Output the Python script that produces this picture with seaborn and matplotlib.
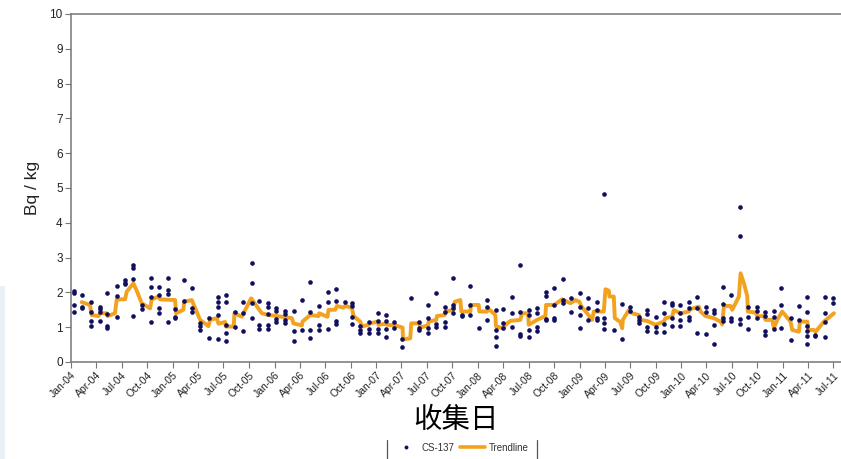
import pandas as pd
import matplotlib
matplotlib.use("Agg")
import matplotlib.pyplot as plt
import matplotlib.dates as mdates
from matplotlib.lines import Line2D
from matplotlib.patches import Rectangle
import seaborn as sns

# sampling times, months since Jan 2004
sample_month = [0.4, 1.3, 2.4, 3.4, 4.3, 5.4, 6.4, 7.35, 8.35, 9.4, 10.4, 11.4,
                12.3, 13.3, 14.3, 15.2, 16.3, 17.3, 18.3, 19.3, 20.3, 21.3, 22.2, 23.2,
                24.2, 25.2, 26.3, 27.2, 28.2, 29.3, 30.3, 31.3, 32.3, 33.1, 34.1, 35.1,
                36.2, 37.2, 38.1, 39.1, 40.1, 41.1, 42.1, 43.1, 44.1, 45.1, 46.1, 47.1,
                48.1, 49.1, 50.1, 51.0, 52.0, 53.0, 54.0, 55.0, 56.0, 57.0, 58.0, 59.0,
                60.0, 61.0, 62.0, 62.9, 64.0, 65.0, 66.0, 67.0, 68.0, 69.0, 69.9, 70.9,
                71.9, 72.9, 73.9, 74.9, 75.9, 76.9, 77.9, 78.9, 79.9, 80.9, 81.9, 82.9,
                83.8, 84.9, 85.9, 86.8, 87.8, 88.9, 89.9]

# CS-137 readings (Bq/kg) for each sampling time
cs137 = [
    [2.05, 1.97, 1.64, 1.43], [1.93, 1.59, 1.56], [1.73, 1.45, 1.19, 1.03],
    [1.59, 1.51, 1.45, 1.19], [1.99, 1.37, 1.04, 0.97], [2.19, 1.90, 1.30],
    [2.36, 2.28, 2.23], [2.79, 2.69, 2.39, 1.32], [1.64, 1.51],
    [2.40, 2.15, 1.88, 1.16], [2.16, 1.93, 1.54, 1.40], [2.40, 2.07, 1.95, 1.16],
    [1.51, 1.30, 1.26], [2.36, 1.76], [2.12, 1.54, 1.45],
    [1.11, 1.03, 0.92], [1.26, 0.68], [1.86, 1.73, 1.57, 1.35, 0.66],
    [1.93, 1.73, 1.06, 0.84, 0.61], [1.45, 1.02], [1.72, 1.40, 0.89],
    [2.85, 2.26, 1.69, 1.26], [1.76, 1.06, 0.95], [1.69, 1.57, 1.38, 1.06, 0.95],
    [1.54, 1.47, 1.23, 1.16], [1.47, 1.38, 1.21, 1.11], [1.47, 0.90, 0.61],
    [1.78, 0.92], [2.29, 1.45, 0.92, 0.68], [1.61, 1.06, 0.92],
    [2.00, 1.73, 0.95], [2.10, 1.76, 1.18, 1.09], [1.72],
    [1.70, 1.61, 1.30, 1.09], [1.03, 0.92, 0.82], [1.16, 0.95, 0.84],
    [1.40, 1.18, 0.95, 0.82], [1.35, 1.18, 0.95, 0.71], [1.16, 0.99],
    [0.65, 0.44], [1.83], [1.16, 0.99, 0.92],
    [1.64, 1.26, 0.97, 0.84], [1.97, 1.09, 1.01], [1.59, 1.45, 1.16, 1.01],
    [2.40, 1.64, 1.54, 1.40], [1.35, 1.33], [2.18, 1.64, 1.35],
    [0.97], [1.78, 1.59, 1.21], [1.49, 0.92, 0.73, 0.47],
    [1.51, 1.13, 0.99], [1.86, 1.42, 1.01], [2.79, 1.45, 0.80, 0.76],
    [1.49, 1.35, 0.92, 0.73], [1.54, 1.42, 1.01, 0.89], [2.02, 1.90, 1.23, 1.21],
    [2.12, 1.64, 1.26, 1.21], [2.38, 1.78, 1.69], [1.83, 1.45],
    [1.99, 1.59, 1.35, 0.97], [1.83, 1.54, 1.21], [1.73, 1.49, 1.26, 1.21],
    [4.83, 1.26, 1.11, 0.94], [0.92], [1.66, 0.65],
    [1.57, 1.47], [1.30, 1.21, 1.11], [1.49, 1.38, 1.01, 0.89],
    [1.30, 1.01, 0.87], [1.73, 1.40, 1.09, 0.87], [1.69, 1.64, 1.26, 1.03],
    [1.64, 1.40, 1.21, 1.03], [1.72, 1.54, 1.30, 1.21], [1.88, 1.54, 0.82],
    [1.59, 1.45, 0.80], [1.49, 1.40, 1.06, 0.51], [2.16, 1.66, 1.26, 1.18],
    [1.93, 1.26, 1.18], [4.46, 3.62, 1.24, 1.09], [1.57, 1.30, 0.95],
    [1.57, 1.47, 1.26], [1.45, 1.32, 0.90, 0.78], [1.47, 1.30, 0.95],
    [2.12, 1.64, 0.97], [1.26, 0.63], [1.61, 1.21],
    [1.88, 1.45, 1.03, 0.89, 0.75, 0.51], [0.78, 0.75], [1.88, 1.42, 1.16, 0.73],
    [1.85, 1.69],
]

# trendline (moving average) vertices
trend_month = [1.26, 2.24, 2.44, 3.23, 3.42, 4.21, 4.33, 5.19, 5.39, 6.38, 6.57, 7.36,
               7.75, 8.34, 9.33, 9.52, 10.31, 10.51, 12.28, 12.40, 13.26, 13.34, 14.25, 15.23,
               16.21, 16.41, 17.2, 17.4, 18.18, 18.26, 19.2, 19.28, 20.15, 20.35, 21.25, 21.92,
               22.51, 23.3, 24.28, 26.05, 26.25, 27.23, 27.31, 28.22, 29.2, 29.28, 30.26, 30.38,
               31.17, 31.37, 32.15, 32.35, 33.14, 33.33, 34.12, 34.32, 35.1, 35.3, 36.17, 36.28,
               37.15, 37.27, 38.25, 39.12, 39.16, 40.02, 40.14, 41.13, 41.2, 42.11, 42.19, 43.09,
               43.17, 44.08, 44.16, 45.14, 45.26, 45.93, 46.04, 47.1, 47.19, 48.09, 48.17, 49.08,
               49.16, 50.06, 50.14, 51.04, 51.24, 51.83, 53.01, 53.21, 53.92, 54.0, 54.98, 55.96,
               56.04, 57.02, 57.93, 58.91, 59.5, 59.98, 60.21, 60.88, 61.47, 61.67, 62.85, 63.05,
               63.44, 63.52, 64.03, 64.15, 64.8, 65.02, 65.1, 65.8, 66.2, 66.98, 67.18, 67.97,
               68.95, 69.93, 70.13, 70.92, 71.11, 71.9, 72.88, 73.08, 74.06, 74.26, 74.85, 75.83,
               76.62, 76.82, 77.02, 77.8, 78.0, 78.79, 78.99, 79.38, 79.77, 79.85, 80.76, 80.95,
               81.74, 81.94, 82.73, 82.92, 83.31, 83.9, 84.88, 85.08, 85.87, 85.99, 86.86, 86.97,
               87.64, 87.84, 88.82, 90.0]
trend_value = [1.72, 1.64, 1.35, 1.32, 1.40, 1.40, 1.32, 1.40, 1.80, 1.80, 2.02, 2.26,
               2.05, 1.69, 1.54, 1.80, 1.88, 1.80, 1.78, 1.40, 1.50, 1.73, 1.78, 1.21,
               1.03, 1.21, 1.26, 1.10, 1.15, 1.02, 1.02, 1.40, 1.30, 1.40, 1.83, 1.60,
               1.40, 1.35, 1.32, 1.26, 1.11, 1.05, 1.16, 1.35, 1.32, 1.40, 1.30, 1.50,
               1.50, 1.61, 1.56, 1.62, 1.55, 1.32, 1.16, 1.02, 1.07, 1.11, 1.16, 1.07,
               1.10, 1.07, 1.05, 0.99, 0.65, 0.68, 1.11, 1.11, 0.99, 1.05, 1.16, 1.21,
               1.32, 1.35, 1.45, 1.50, 1.73, 1.78, 1.45, 1.45, 1.64, 1.64, 1.45, 1.45,
               1.55, 1.35, 1.02, 0.97, 1.07, 1.18, 1.21, 1.40, 1.40, 1.07, 1.21, 1.32,
               1.64, 1.64, 1.80, 1.69, 1.78, 1.73, 1.60, 1.40, 1.21, 1.45, 1.45, 2.09,
               2.05, 1.88, 1.88, 1.26, 1.15, 0.97, 1.21, 1.49, 1.40, 1.35, 1.21, 1.18,
               1.07, 1.16, 1.26, 1.30, 1.49, 1.40, 1.45, 1.52, 1.59, 1.45, 1.32, 1.26,
               1.16, 1.08, 1.61, 1.61, 1.50, 1.88, 2.55, 2.26, 1.90, 1.45, 1.42, 1.32,
               1.32, 1.21, 1.21, 0.97, 1.21, 1.45, 1.16, 0.92, 0.87, 1.16, 1.16, 0.92,
               0.92, 0.87, 1.16, 1.40]

start = pd.Timestamp("2004-01-01")


def to_date(months):
    return start + pd.to_timedelta(pd.Series(months) * 30.44, unit="D")


rows = []
for m, vals in zip(sample_month, cs137):
    for v in vals:
        rows.append({"month": m, "value": v})
df = pd.DataFrame(rows)
df["date"] = to_date(df["month"]).values

trend = pd.DataFrame({"date": to_date(trend_month), "value": trend_value})

sns.set_theme(style="white")
plt.rcParams["font.family"] = ["Liberation Sans", "Noto Sans CJK SC", "DejaVu Sans"]

fig = plt.figure(figsize=(8.41, 4.59), dpi=100)
ax = fig.add_axes([71 / 841, 1 - 362 / 459, 1 - 71 / 841, (362 - 14) / 459])

sns.scatterplot(x="date", y="value", data=df, ax=ax, color="#10105e", s=11,
                linewidth=0, zorder=3, legend=False)
sns.lineplot(x="date", y="value", data=trend, ax=ax, color="#f2a21e", linewidth=2.8,
             sort=False, estimator=None, zorder=2, legend=False)

ax.set_xlim(pd.Timestamp("2004-01-01"), pd.Timestamp("2011-07-28"))
ax.set_ylim(0, 10)
ax.set_yticks(range(0, 11))
ax.xaxis.set_major_locator(mdates.MonthLocator(bymonth=(1, 4, 7, 10)))
ax.xaxis.set_major_formatter(mdates.DateFormatter("%b-%y"))
plt.setp(ax.get_xticklabels(), rotation=45, ha="right", rotation_mode="anchor")

ax.tick_params(axis="both", which="major", direction="out", length=4, width=0.8,
               color="#777777", labelsize=7.5, labelcolor="#222222", pad=2,
               bottom=True, left=True)
ax.tick_params(axis="y", labelsize=8.5)
for side in ["left", "bottom", "top"]:
    ax.spines[side].set_color("#808080")
    ax.spines[side].set_linewidth(1.2)
ax.spines["right"].set_visible(False)

ax.set_xlabel("收集日", fontsize=20.5, labelpad=4, color="black",
              family=["Noto Sans CJK SC", "DejaVu Sans"])
ax.set_ylabel("Bq / kg", fontsize=12.5, labelpad=7, color="#222222")

handles = [
    Line2D([], [], linestyle="none", marker="o", markersize=2.8,
           markerfacecolor="#10105e", markeredgewidth=0),
    Line2D([], [], color="#f2a21e", linewidth=2.6),
]
fig.legend(handles, ["CS-137", "Trendline"], loc="lower center",
           bbox_to_anchor=(0.548, -0.005), ncol=2, frameon=False, fontsize=7,
           handlelength=2.5, columnspacing=0.6, handletextpad=0.4,
           labelcolor="#333333")

# bars either side of the legend and the light strip on the left edge
fig.add_artist(Line2D([387 / 841, 387 / 841], [0, 19 / 459], color="#555555", linewidth=0.9))
fig.add_artist(Line2D([537 / 841, 537 / 841], [0, 19 / 459], color="#555555", linewidth=0.9))
fig.add_artist(Rectangle((0, 0), 5 / 841, (459 - 286) / 459, facecolor="#e9f0f6",
                         edgecolor="none", transform=fig.transFigure))

fig.savefig("out.png", dpi=100)
